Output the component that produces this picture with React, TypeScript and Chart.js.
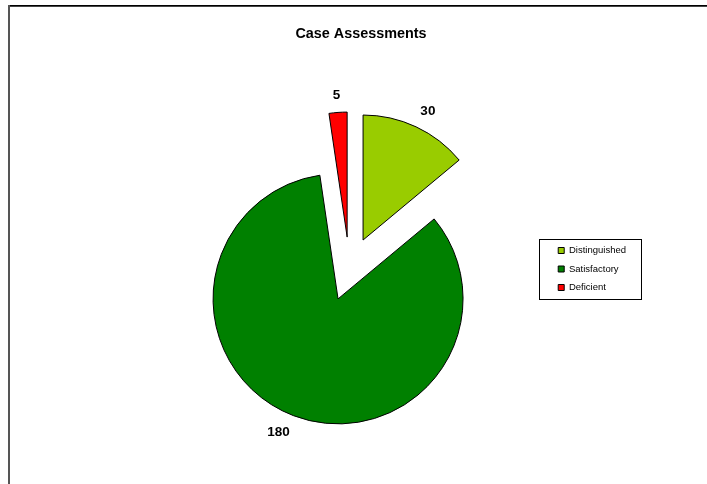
import React, { useEffect, useRef } from 'react';
import { Chart, registerables, layouts } from 'chart.js';

Chart.register(...registerables);

const categories = ['Distinguished', 'Satisfactory', 'Deficient'];
const counts = [30, 180, 5];
const sliceColors = ['#99CC00', '#008000', '#FF0000'];
const chartTitle = 'Case Assessments';

const FONT = '"Liberation Sans", Arial, Helvetica, sans-serif';
const EXPLODE = 32;
const LABEL_GAP = 10;
const LEFT_SPACER = 63.75;

export default function App() {
  const ref = useRef<HTMLCanvasElement>(null);

  useEffect(() => {
    const canvas = ref.current;
    if (!canvas) return;

    const spacerBox: any = {
      position: 'left',
      weight: 0,
      fullSize: false,
      options: {},
      width: 0,
      height: 0,
      left: 0,
      top: 0,
      right: 0,
      bottom: 0,
      isHorizontal() {
        return false;
      },
      update(_maxWidth: number, maxHeight: number) {
        this.width = LEFT_SPACER;
        this.height = maxHeight;
      },
      draw() {},
    };

    const spacerPlugin = {
      id: 'leftSpacer',
      beforeInit(chart: any) {
        layouts.addBox(chart, spacerBox);
      },
    };

    const framePlugin = {
      id: 'frame',
      beforeDraw(chart: any) {
        const ctx = chart.ctx;
        ctx.save();
        ctx.fillStyle = '#ffffff';
        ctx.fillRect(0, 0, chart.width, chart.height);
        ctx.fillStyle = '#000000';
        ctx.fillRect(8, 5, chart.width - 8, 1);
        ctx.fillStyle = '#444444';
        ctx.fillRect(8, 6, chart.width - 8, 1);
        ctx.fillStyle = '#555555';
        ctx.fillRect(8, 5, 2, chart.height - 5);
        ctx.restore();
      },
    };

    const explodePlugin = {
      id: 'explode',
      beforeDatasetDraw(chart: any, args: any) {
        const ctx = chart.ctx;
        args.meta.data.forEach((arc: any) => {
          const half = (arc.startAngle + arc.endAngle) / 2;
          ctx.save();
          ctx.translate(Math.cos(half) * EXPLODE, Math.sin(half) * EXPLODE);
          arc.draw(ctx);
          ctx.restore();
        });
        return false;
      },
    };

    const clamp1 = (v: number) => Math.max(-1, Math.min(1, v));

    const labelPlugin = {
      id: 'sliceLabels',
      afterDraw(chart: any) {
        const ctx = chart.ctx;
        const meta = chart.getDatasetMeta(0);
        const size = 13.5;
        const h = 14;
        ctx.save();
        ctx.fillStyle = '#000000';
        ctx.font = `bold ${size}px ${FONT}`;
        ctx.textAlign = 'center';
        ctx.textBaseline = 'middle';
        meta.data.forEach((arc: any, i: number) => {
          const text = String(counts[i]);
          const half = (arc.startAngle + arc.endAngle) / 2;
          const ux = Math.cos(half);
          const uy = Math.sin(half);
          const w = ctx.measureText(text).width;
          const d = EXPLODE + arc.outerRadius + LABEL_GAP;
          const x = arc.x + ux * d + clamp1(ux / 0.3) * w / 2;
          const y = arc.y + uy * d + clamp1(uy / 0.3) * h / 2;
          ctx.fillText(text, x, y);
        });
        ctx.restore();
      },
    };

    const legendBoxPlugin = {
      id: 'legendBox',
      afterDraw(chart: any) {
        const lg = chart.legend;
        if (!lg || !lg.legendHitBoxes || !lg.legendHitBoxes.length) return;
        const hbs = lg.legendHitBoxes;
        let minL = Infinity, maxR = -Infinity;
        hbs.forEach((hb: any) => {
          minL = Math.min(minL, hb.left);
          maxR = Math.max(maxR, hb.left + hb.width);
        });
        const top = hbs[0].top - 7;
        const last = hbs[hbs.length - 1];
        const bottom = last.top + last.height + 6;
        const left = minL - 19;
        const right = maxR + 15;
        const ctx = chart.ctx;
        ctx.save();
        ctx.strokeStyle = '#000000';
        ctx.lineWidth = 1;
        ctx.strokeRect(Math.round(left) + 0.5, Math.round(top) + 0.5, Math.round(right - left), Math.round(bottom - top));
        ctx.restore();
      },
    };

    const chart = new Chart(canvas, {
      type: 'pie',
      data: {
        labels: categories,
        datasets: [
          {
            data: counts,
            backgroundColor: sliceColors,
            borderColor: '#000000',
            borderWidth: 1,
          },
        ],
      },
      options: {
        responsive: false,
        animation: false,
        events: [],
        radius: 125,
        layout: { padding: { left: 86, right: 71, top: 0, bottom: 0 } },
        plugins: {
          title: {
            display: true,
            text: chartTitle,
            color: '#000000',
            font: { family: FONT, size: 14.4, weight: 'bold' },
            padding: { top: 25.86, bottom: 10.86 },
          },
          legend: {
            position: 'right',
            fullSize: false,
            labels: {
              color: '#000000',
              font: { family: FONT, size: 9.5 },
              boxWidth: 6,
              boxHeight: 6,
              padding: 9,
            },
          },
          tooltip: { enabled: false },
        },
      } as any,
      plugins: [spacerPlugin, framePlugin, explodePlugin, labelPlugin, legendBoxPlugin],
    });

    return () => chart.destroy();
  }, []);

  return (
    <canvas
      ref={ref}
      width={707}
      height={484}
      style={{ position: 'fixed', left: 0, top: 0, display: 'block' }}
    />
  );
}
